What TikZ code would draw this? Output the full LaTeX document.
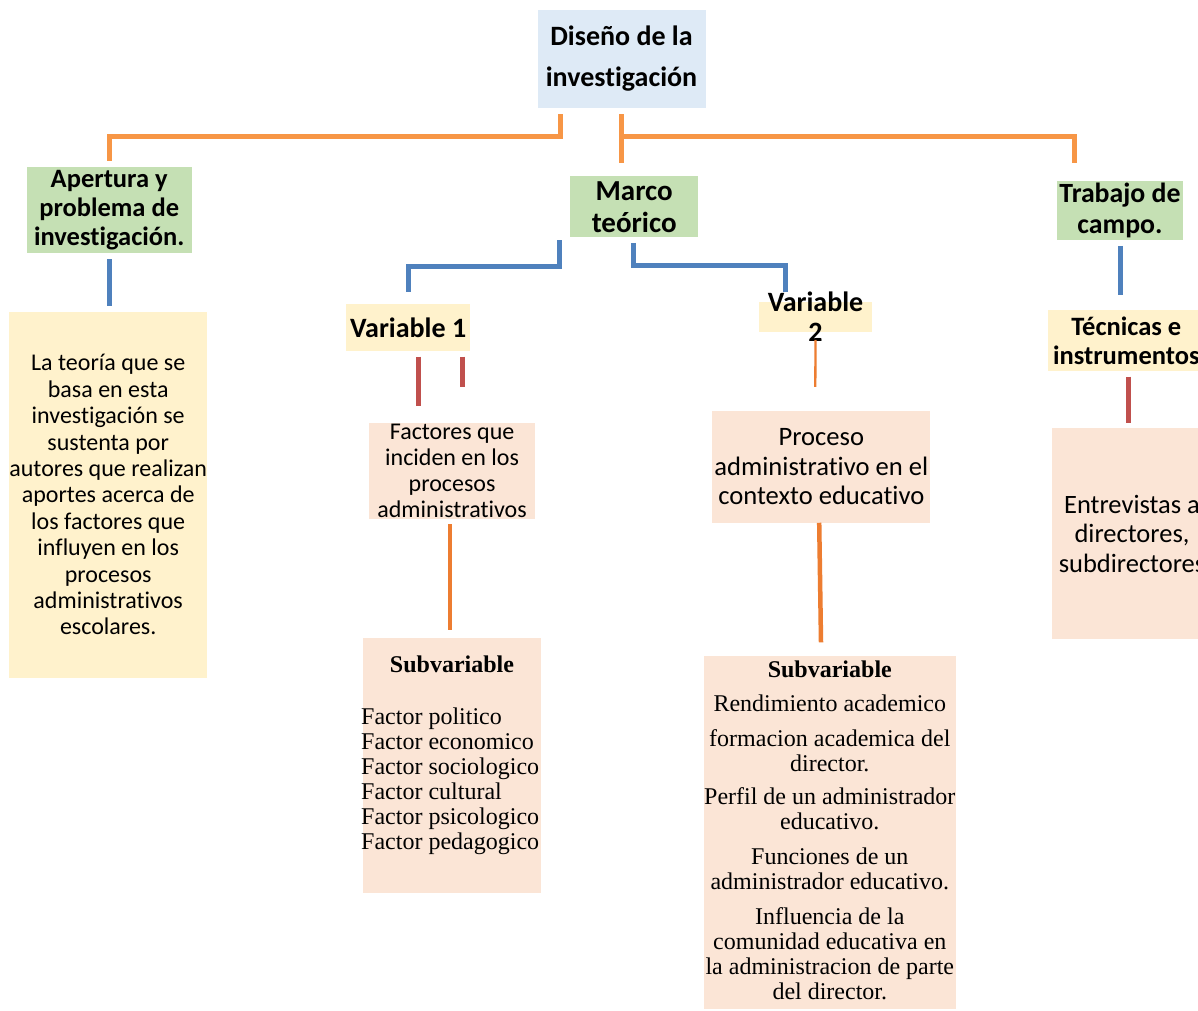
\documentclass[tikz,border=0pt]{standalone}
\usepackage{fontspec}
\setmainfont{Carlito}[Ligatures=NoCommon]
\newfontfamily\tnr{Liberation Serif}[Ligatures=NoCommon]
\definecolor{cblue}{HTML}{DEEAF6}
\definecolor{cgreen}{HTML}{C5E0B4}
\definecolor{cyellow}{HTML}{FFF2CC}
\definecolor{cpeach}{HTML}{FBE5D6}
\definecolor{lorange}{HTML}{F79646}
\definecolor{lorange2}{HTML}{ED7D31}
\definecolor{lblue}{HTML}{4F81BD}
\definecolor{lred}{HTML}{C0504D}
\begin{document}
\begin{tikzpicture}[x=1pt,y=-1pt,
  bx/.style={inner sep=0pt, outer sep=0pt, align=center, text=black},
  oline/.style={draw=lorange, line width=5pt, line join=miter},
  oline2/.style={draw=lorange2, line width=#1},
  bline/.style={draw=lblue, line width=5pt, line join=miter},
  rline/.style={draw=lred, line width=5pt}
]
\useasboundingbox (0,0) rectangle (1198,1010);
\fill[white] (0,0) rectangle (1198,1010);
\clip (0,0) rectangle (1198,1010);

% boxes
\node[bx, fill=cblue, minimum width=168pt, minimum height=98pt,
  font=\bfseries\fontsize{28}{41}\selectfont] (top) at (621.5,59) {Diseño de la\\investigación};
\node[bx, fill=cgreen, minimum width=165pt, minimum height=86.6pt,
  font=\bfseries\fontsize{26.5}{29}\selectfont] (apert) at (109.2,210) {Apertura y\\problema de\\investigación.};
\node[bx, fill=cgreen, minimum width=128.5pt, minimum height=61.3pt,
  font=\bfseries\fontsize{29}{32}\selectfont] (marco) at (634.2,206.7) {Marco\\teórico};
\node[bx, fill=cgreen, minimum width=126pt, minimum height=59.3pt,
  font=\bfseries\fontsize{27.8}{31}\selectfont] (trab) at (1120,210.3) {Trabajo de\\campo.};

\node[bx, fill=cyellow, minimum width=198pt, minimum height=366pt,
  font=\fontsize{24}{26.4}\selectfont] (teoria) at (108.2,494.7)
  {La teoría que se\\basa en esta\\investigación se\\sustenta por\\autores que realizan\\aportes acerca de\\los factores que\\influyen en los\\procesos\\administrativos\\escolares.};

\node[bx, fill=cyellow, minimum width=123.6pt, minimum height=47pt,
  font=\bfseries\fontsize{28}{30}\selectfont] (var1) at (408.2,327.5) {Variable 1};
\node[bx, fill=cyellow, minimum width=113pt, minimum height=30.3pt] (var2) at (815.5,316.8) {};
\node[bx, font=\bfseries\fontsize{28}{30}\selectfont] (var2t) at (815.5,316.5) {Variable\\2};
\node[bx, fill=cyellow, minimum width=157.5pt, minimum height=60.7pt,
  font=\bfseries\fontsize{26.5}{29}\selectfont] (tecn) at (1126.3,340.3) {Técnicas e\\instrumentos};

\node[bx, fill=cpeach, minimum width=166.2pt, minimum height=96.3pt,
  font=\fontsize{24}{26}\selectfont] (fact) at (452.1,470.9)
  {Factores que\\inciden en los\\procesos\\administrativos};
\node[bx, fill=cpeach, minimum width=218pt, minimum height=111.7pt,
  font=\fontsize{26.6}{29.5}\selectfont] (proc) at (821.3,466.9)
  {Proceso\\administrativo en el\\contexto educativo};
\node[bx, fill=cpeach, minimum width=160pt, minimum height=211pt,
  font=\fontsize{26.5}{29.5}\selectfont] (entrev) at (1132,533.8)
  {Entrevistas a\\directores,\\subdirectores};

\node[bx, fill=cpeach, minimum width=178pt, minimum height=255pt] (sub1) at (452,765.8) {};
\node[bx, font=\tnr\bfseries\fontsize{24}{25}\selectfont] (sub1h) at (452,664.5) {Subvariable};
\node[anchor=north west, inner sep=0pt, align=left,
  font=\tnr\fontsize{24}{25}\selectfont] (sub1t) at (361,707.8)
  {Factor politico\\Factor economico\\Factor sociologico\\Factor cultural\\Factor psicologico\\Factor pedagogico};

\node[bx, fill=cpeach, minimum width=251.5pt, minimum height=353pt] (sub2) at (829.8,832.5) {};
\node[anchor=north, inner sep=0pt, align=center,
  font=\tnr\fontsize{24}{25}\selectfont] (sub2t) at (829.8,660.5)
  {\textbf{Subvariable}\\[9pt]Rendimiento academico\\[10pt]formacion academica del\\director.\\[8.4pt]Perfil de un administrador\\educativo.\\[10pt]Funciones de un\\administrador educativo.\\[10pt]Influencia de la\\comunidad educativa en\\la administracion de parte\\del director.};

% connectors: top level (orange)
\draw[oline] ([xshift=-61pt,yshift=-6pt]top.south) |- ([yshift=30pt]apert.north) -- ([yshift=6pt]apert.north);
\draw[oline] ([xshift=-0.5pt,yshift=-6pt]top.south) -- ([xshift=-13.2pt,yshift=13pt]marco.north);
\draw[oline] ([xshift=-0.5pt,yshift=-28.7pt]top.south) -| ([xshift=17pt,yshift=17.7pt]trab.north west);

% blue
\draw[bline] ([yshift=-5.7pt]apert.south) -- ([yshift=5.7pt]apert.south |- teoria.north);
\draw[bline] ([xshift=-10.6pt,yshift=-2.7pt]marco.south west) |- ([yshift=38pt]var1.north) -- ([yshift=12pt]var1.north);
\draw[bline] ([xshift=-0.5pt,yshift=-5.4pt]marco.south) |- ([xshift=-30.5pt,yshift=35.7pt]var2.north) -- ([xshift=-30.5pt,yshift=9.7pt]var2.north);
\draw[bline] ([yshift=-6pt]trab.south) -- ([yshift=15pt]trab.south |- tecn.north);

% red
\draw[rline] ([xshift=9.8pt,yshift=-5.7pt]var1.south) -- ([xshift=-34.1pt,yshift=16.7pt]fact.north);
\draw[rline] ([xshift=54.3pt,yshift=-5.7pt]var1.south) -- ([xshift=10.4pt,yshift=35.4pt]fact.north);
\draw[rline] ([xshift=2.4pt,yshift=-6pt]tecn.south) -- ([xshift=-3.3pt,yshift=5.6pt]entrev.north);

% lower orange
\draw[oline2=2.3pt] ([yshift=-8pt]var2.south) -- ([xshift=-6pt,yshift=24.3pt]proc.north);
\draw[oline2=4pt] ([xshift=-2.3pt,yshift=-5pt]fact.south) -- ([xshift=-2.2pt,yshift=8.3pt]sub1.north);
\draw[oline2=4.5pt] ([xshift=-2.1pt]proc.south) -- ([xshift=-8.8pt,yshift=13.7pt]sub2.north);
\end{tikzpicture}
\end{document}
